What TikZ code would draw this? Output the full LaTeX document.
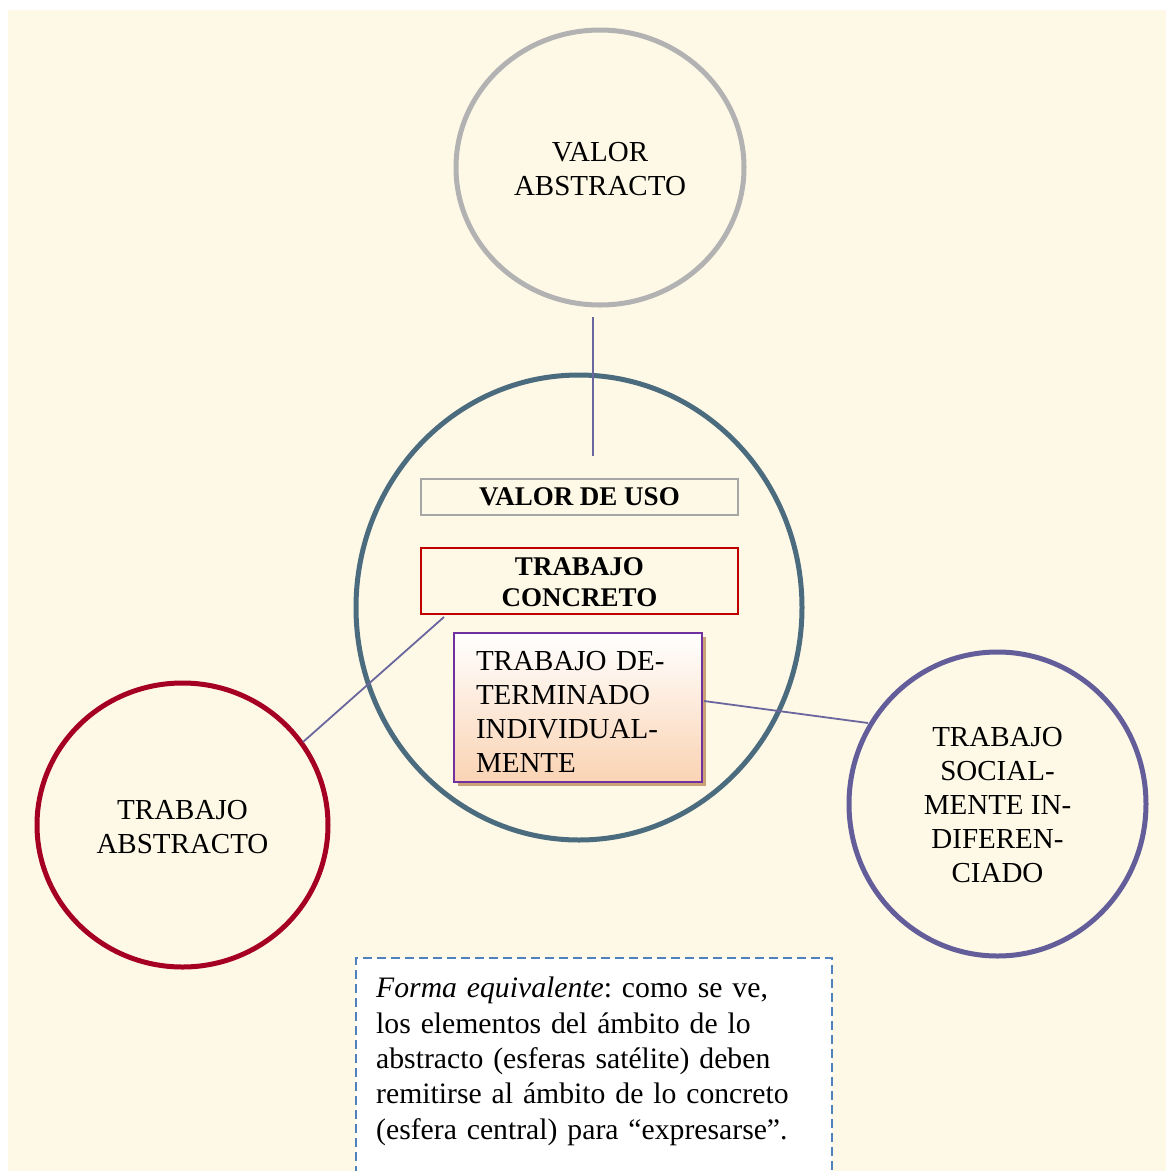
\documentclass[tikz,border=0pt]{standalone}
\usepackage{fontspec}
\setmainfont{Liberation Serif}
\usetikzlibrary{shapes.geometric,shadows}
\frenchspacing
\definecolor{bgcream}{HTML}{FEF8E6}
\definecolor{vagray}{HTML}{B2B2B2}
\definecolor{centralc}{HTML}{4B6B7E}
\definecolor{tared}{HTML}{A50021}
\definecolor{tspurple}{HTML}{635E9A}
\definecolor{linkc}{HTML}{6A679E}
\definecolor{boxgray}{HTML}{A6A6A6}
\definecolor{boxred}{HTML}{C00000}
\definecolor{boxpurple}{HTML}{7030A0}
\definecolor{peach}{HTML}{FAD3B3}
\definecolor{shadowtan}{HTML}{C9A377}
\definecolor{dashblue}{HTML}{4F81BD}
\tikzset{
  sphere/.style={ellipse, draw, line width=5pt, inner sep=0pt, align=center,
    font=\fontsize{29}{34}\selectfont},
  link/.style={draw=linkc, line width=1.8pt},
  labelbox/.style={rectangle, draw, line width=2pt, minimum width=317pt, align=center,
    font=\bfseries\fontsize{27}{31}\selectfont, inner sep=0pt},
}
\begin{document}
\begin{tikzpicture}[x=1pt,y=-1pt]
\useasboundingbox (0,0) rectangle (1166,1171);
\fill[white] (0,0) rectangle (1166,1171);
\fill[bgcream] (8,10) rectangle (1166,1171);

% satellite and central spheres
\node[sphere, draw=vagray, minimum width=288pt, minimum height=275pt] (va) at (600,167.5) {\rule{0pt}{22pt}VALOR\\ABSTRACTO};
\node[sphere, draw=centralc, minimum width=446pt, minimum height=465pt] (central) at (579,607.5) {};
\node[sphere, draw=tared, minimum width=291pt, minimum height=284pt] (ta) at (182.5,825) {\rule{0pt}{23pt}TRABAJO\\ABSTRACTO};
\node[sphere, draw=tspurple, minimum width=297pt, minimum height=304pt] (ts) at (997.5,804) {\rule{0pt}{22pt}TRABAJO\\SOCIAL-\\MENTE IN-\\DIFEREN-\\CIADO};

% boxes inside the central sphere
\node[labelbox, draw=boxgray, minimum height=36pt] (vu) at (579.5,496.5) {VALOR DE USO};
\node[labelbox, draw=boxred, minimum height=66pt] (tc) at (579.5,580.5) {\rule{0pt}{22pt}TRABAJO\\CONCRETO};
\fill[shadowtan] (458,637) rectangle (706,786);
\node[rectangle, draw=boxpurple, line width=2.5pt, top color=white, bottom color=peach,
  minimum width=248pt, minimum height=149pt, text width=204pt, inner xsep=22pt, inner ysep=0pt,
  align=left, font=\fontsize{29}{34}\selectfont] (det) at (578,707.5)
  {\rule{0pt}{27pt}TRABAJO DE-\\TERMINADO\\INDIVIDUAL-\\MENTE};

% connectors
\coordinate (vtop) at (593,317);
\coordinate (vbot) at (593,456);
\coordinate (tcfoot) at (444,617);
\coordinate (tafoot) at (303,742);
\coordinate (detfoot) at (704,701);
\coordinate (tsfoot) at (868,723);
\draw[link] (vtop) -- (vbot);
\draw[link] (tcfoot) -- (tafoot);
\draw[link] (detfoot) -- (tsfoot);

% note box
\draw[dashblue, line width=2pt, dash pattern=on 9pt off 5pt, fill=white]
  (356,1175) -- (356,958) -- (832,958) -- (832,1175);
\node[anchor=north west, inner sep=0pt, text width=450pt, align=left,
  font=\fontsize{29.7}{35.3}\selectfont] (note) at (376,977)
  {\textit{Forma equivalente}: como se ve,\\los elementos del ámbito de lo\\abstracto (esferas satélite) deben\\remitirse al ámbito de lo concreto\\(esfera central) para “expresarse”.};
\end{tikzpicture}
\end{document}
